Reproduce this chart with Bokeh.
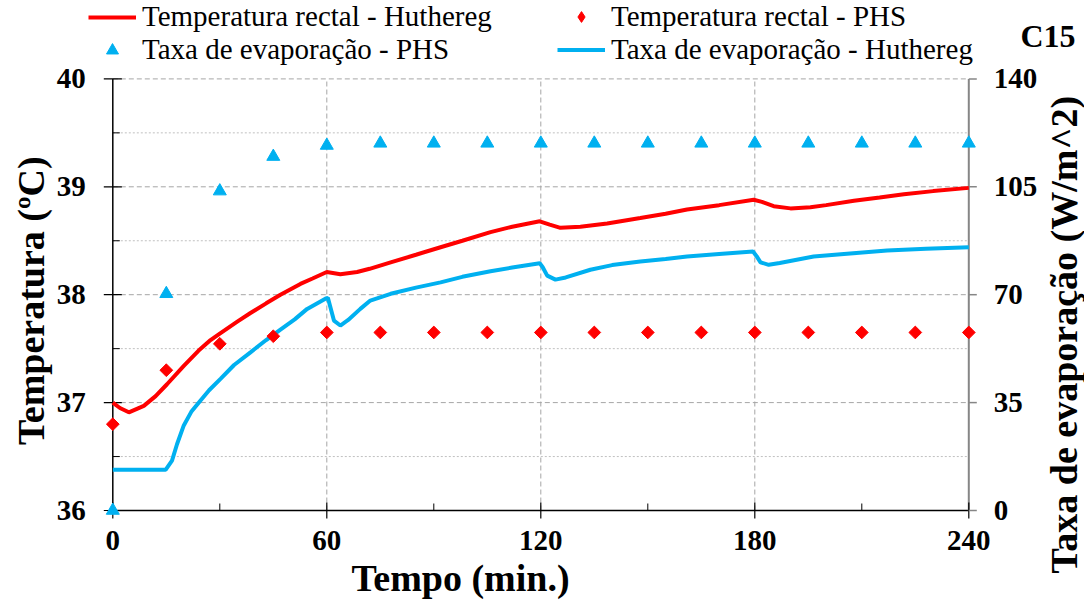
import numpy as np
from bokeh.plotting import figure
from bokeh.models import Range1d, Legend, LegendItem, Label
from bokeh.core.properties import value
from bokeh.embed import file_html
from bokeh.resources import INLINE

# ---- data ----
red_t = [0, 2, 4.5, 8.7, 12, 15.2, 19.9, 24, 27.4, 30, 34.9, 38.6, 43, 47, 52.6, 56, 60,
         63.8, 68.5, 72, 77.9, 85, 91.9, 98, 105.9, 112, 119.7, 122.5, 125.5, 131.1,
         138.6, 147.9, 155, 161, 170, 179.7, 182, 185.3, 190, 195.6, 200, 207.8, 215,
         221.8, 230, 240]
red_v = [37.00, 36.95, 36.91, 36.97, 37.06, 37.17, 37.34, 37.48, 37.58, 37.64, 37.75,
         37.83, 37.92, 38.00, 38.10, 38.15, 38.21, 38.19, 38.21, 38.24, 38.30, 38.37,
         38.44, 38.50, 38.58, 38.63, 38.68, 38.65, 38.62, 38.63, 38.66, 38.71, 38.75,
         38.79, 38.83, 38.88, 38.86, 38.82, 38.80, 38.81, 38.83, 38.87, 38.90, 38.93,
         38.96, 38.99]

blue_t = [0, 5, 10, 14.8, 16.6, 18, 19.9, 22, 24.6, 27, 30.2, 34, 38.6, 43, 47, 51, 54.5,
          59.6, 60.3, 62, 63.8, 66, 69.4, 72.2, 77.9, 85, 91.9, 98, 105.9, 112, 119.7,
          120.5, 121.8, 124.1, 127, 133.9, 140, 147.9, 155, 161, 170, 179.5, 180.5,
          181.6, 183.9, 187, 196.5, 205, 217.1, 228, 240]
blue_v = [13.2, 13.2, 13.2, 13.2, 16.2, 21.5, 27.6, 32.0, 35.7, 39.0, 42.7, 47.2, 51.3,
          55.3, 58.7, 62.0, 65.4, 68.7, 69.0, 61.6, 60.0, 61.8, 65.4, 68.1, 70.3, 72.3,
          74.0, 75.8, 77.6, 78.8, 80.2, 79.0, 76.2, 74.9, 75.6, 78.1, 79.6, 80.8, 81.6,
          82.4, 83.2, 84.0, 82.5, 80.5, 79.7, 80.3, 82.4, 83.2, 84.3, 84.9, 85.4]

phs_t = [0, 15, 30, 45, 60, 75, 90, 105, 120, 135, 150, 165, 180, 195, 210, 225, 240]
phs_temp = [36.80, 37.30, 37.545, 37.615, 37.65, 37.65, 37.65, 37.65, 37.65, 37.65,
            37.65, 37.65, 37.65, 37.65, 37.65, 37.65, 37.65]
phs_evap = [0, 70.3, 103.6, 114.8, 118.4, 119.1, 119.1, 119.1, 119.1, 119.1, 119.1,
            119.1, 119.1, 119.1, 119.1, 119.1, 119.1]

x_ticks = [0, 60, 120, 180, 240]
x_labels = ["0", "60", "120", "180", "240"]
x_minor = [30, 90, 150, 210]
yl_ticks = [36, 37, 38, 39, 40]
yl_labels = ["36", "37", "38", "39", "40"]
yl_minor = [36.5, 37.5, 38.5, 39.5]
yr_ticks = [0, 35, 70, 105, 140]
yr_labels = ["0", "35", "70", "105", "140"]

RED = "#FF0000"
BLUE = "#00B0F0"
GRAY_AX = "#868686"
FONT = "Liberation Serif"

# ---- layout geometry (pixels) ----
W, H = 1084, 600
FR_L, FR_R, FR_T, FR_B = 112.3, 968.3, 78.4, 510.0
X0, X1 = x_ticks[0], x_ticks[-1]
YL0, YL1 = yl_ticks[0], yl_ticks[-1]
YR0, YR1 = yr_ticks[0], yr_ticks[-1]
kx = (FR_R - FR_L) / (X1 - X0)
kyl = (FR_B - FR_T) / (YL1 - YL0)
kyr = (FR_B - FR_T) / (YR1 - YR0)

p = figure(width=W, height=H, output_backend="svg", toolbar_location=None,
           x_range=Range1d(X0 - FR_L / kx, X1 + (W - FR_R) / kx),
           y_range=Range1d(YL0 - (H - FR_B) / kyl, YL1 + FR_T / kyl),
           x_axis_type=None, y_axis_type=None,
           min_border_left=0, min_border_right=0, min_border_top=0,
           min_border_bottom=0)
p.extra_y_ranges = {"right": Range1d(YR0 - (H - FR_B) / kyr, YR1 + FR_T / kyr)}
p.outline_line_color = None
p.background_fill_color = "white"
p.border_fill_color = "white"

# ---- grid ----
gmaj = yl_ticks[1:]
p.segment(x0=[X0] * len(gmaj), x1=[X1] * len(gmaj), y0=gmaj, y1=gmaj,
          line_color="#a6a6a6", line_dash="5 3", line_width=1)
p.segment(x0=[X0] * len(yl_minor), x1=[X1] * len(yl_minor), y0=yl_minor, y1=yl_minor,
          line_color="#c0c0c0", line_dash="2 2", line_width=1)
gx = x_ticks[1:-1]
p.segment(x0=gx, x1=gx, y0=[YL0] * len(gx), y1=[YL1] * len(gx),
          line_color="#a6a6a6", line_dash="5 3", line_width=1)

# ---- axes lines and ticks ----
p.segment(x0=[X0], x1=[X0], y0=[YL0], y1=[YL1], line_color="black", line_width=1.5)
p.segment(x0=[X0], x1=[X1], y0=[YL0], y1=[YL0], line_color="black", line_width=1.5)
p.segment(x0=[X1], x1=[X1], y0=[YR0], y1=[YR1], line_color=GRAY_AX, line_width=2,
          y_range_name="right")
p.scatter([X0] * len(yl_ticks), yl_ticks, marker="dash", size=18, line_color="black",
          line_width=1.2)
p.segment(x0=[X0] * len(yl_minor), x1=[X0 + 7 / kx] * len(yl_minor), y0=yl_minor,
          y1=yl_minor, line_color="black", line_width=1)
p.scatter(x_ticks, [YL0] * len(x_ticks), marker="dash", angle=np.pi / 2, size=16,
          line_color="black", line_width=1.2)
p.segment(x0=x_minor, x1=x_minor, y0=[YL0] * len(x_minor),
          y1=[YL0 + 7 / kyl] * len(x_minor), line_color="black", line_width=1)
p.segment(x0=[X1] * len(yr_ticks), x1=[X1 + 8 / kx] * len(yr_ticks), y0=yr_ticks,
          y1=yr_ticks, line_color=GRAY_AX, line_width=1.5, y_range_name="right")

# ---- tick labels ----
TL = dict(text_font=value(FONT), text_font_style="bold", text_font_size="29px",
          text_color="black")
p.text([X0] * len(yl_ticks), yl_ticks, text=yl_labels, x_offset=-27,
       text_align="right", text_baseline="middle", **TL)
p.text(x_ticks, [YL0] * len(x_ticks), text=x_labels, y_offset=30,
       text_align="center", text_baseline="middle", **TL)
p.text([X1] * len(yr_ticks), yr_ticks, text=yr_labels, x_offset=25,
       text_align="left", text_baseline="middle", y_range_name="right", **TL)

# ---- axis titles ----
AT = dict(text_font=value(FONT), text_font_style="bold", text_font_size="38px",
          text_color="black", text_align="center", text_baseline="middle")
p.text([X0], [YL0], text=["Tempo (min.)"], x_offset=460 - FR_L, y_offset=67, **AT)
p.text([X0], [(YL0 + YL1) / 2], text=["Temperatura (ºC)"], angle=np.pi / 2,
       x_offset=30 - FR_L, y_offset=6, **AT)
p.text([X1], [(YR0 + YR1) / 2], text=["Taxa de evaporação (W/m^2)"], angle=np.pi / 2,
       x_offset=1063 - FR_R, y_offset=40, y_range_name="right", **AT)

# ---- data ----
r_red = p.line(red_t, red_v, line_color=RED, line_width=4)
r_blue = p.line(blue_t, blue_v, line_color=BLUE, line_width=4, y_range_name="right")
p.scatter(phs_t, phs_temp, marker="square", angle=np.pi / 4, size=9,
          fill_color=RED, line_color=RED)
r_tri = p.scatter(phs_t, phs_evap, marker="triangle", size=13, fill_color=BLUE,
                  line_color=BLUE, y_range_name="right")
# hidden twin of the PHS temperature series, used only for its legend symbol
r_dia_leg = p.scatter(phs_t, phs_temp, marker="diamond", fill_color=RED,
                      line_color=RED, visible=False)


def mk_legend(items, loc, gh):
    lg = Legend(items=items, location=loc, orientation="vertical")
    lg.label_text_font = FONT
    lg.label_text_font_size = "29px"
    lg.label_text_color = "black"
    lg.glyph_width = 48
    lg.glyph_height = gh
    lg.label_standoff = 6
    lg.spacing = 0
    lg.padding = 0
    lg.margin = 0
    lg.border_line_color = None
    lg.background_fill_alpha = 0
    lg.inactive_fill_alpha = 0
    return lg


lg1 = mk_legend([LegendItem(label="Temperatura rectal - Huthereg", renderers=[r_red]),
                 LegendItem(label="Taxa de evaporação - PHS", renderers=[r_tri])],
                (88, H - 2 - 64), 30)
lg2 = mk_legend([LegendItem(label="Temperatura rectal - PHS", renderers=[r_dia_leg]),
                 LegendItem(label="Taxa de evaporação - Huthereg", renderers=[r_blue])],
                (557, H - 2 - 64), 27)
p.add_layout(lg1, "center")
p.add_layout(lg2, "center")

p.add_layout(Label(x=1020, y=H - 35, x_units="screen", y_units="screen", text="C15",
                   text_font=FONT, text_font_style="bold", text_font_size="32px",
                   text_color="black", text_baseline="alphabetic"))

open("out.html", "w").write(file_html(p, INLINE))
